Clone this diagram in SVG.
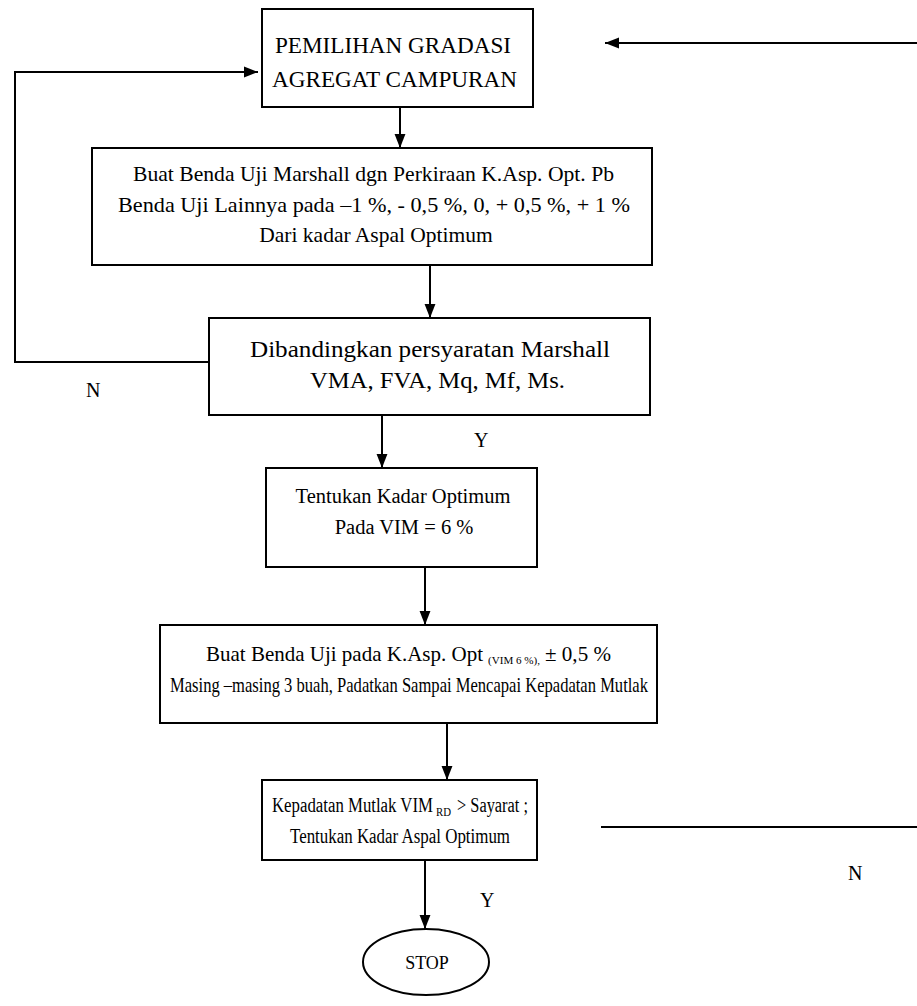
<svg xmlns="http://www.w3.org/2000/svg" width="917" height="1006" viewBox="0 0 917 1006">
<style>
.box{fill:#fff;stroke:#000;stroke-width:2}
.ln{fill:none;stroke:#000;stroke-width:2}
text{font-family:'Liberation Serif','DejaVu Serif',serif;font-size:20px;fill:#000}
.c{text-anchor:middle}
</style>
<defs>
<marker id="ah" markerWidth="14" markerHeight="18" refX="18" refY="7" orient="auto" markerUnits="userSpaceOnUse" viewBox="0 0 18 14">
<path d="M0,0 L18,7 L0,14 Z" fill="#000"/>
</marker>
</defs>
<g id="connectors">
<line class="ln" x1="917" y1="43" x2="605" y2="43" marker-end="url(#ah)"/>
<polyline class="ln" points="209,362 15,362 15,72 258,72" marker-end="url(#ah)"/>
<line class="ln" x1="400" y1="107" x2="400" y2="148" marker-end="url(#ah)"/>
<line class="ln" x1="430" y1="265" x2="430" y2="318" marker-end="url(#ah)"/>
<line class="ln" x1="382" y1="415" x2="382" y2="468" marker-end="url(#ah)"/>
<line class="ln" x1="425" y1="567" x2="425" y2="625" marker-end="url(#ah)"/>
<line class="ln" x1="447" y1="723" x2="447" y2="780" marker-end="url(#ah)"/>
<line class="ln" x1="601" y1="827" x2="917" y2="827"/>
<line class="ln" x1="425" y1="860" x2="425" y2="929" marker-end="url(#ah)"/>
<text x="86" y="397">N</text>
<text x="474" y="447">Y</text>
<text x="848" y="880">N</text>
<text x="480" y="907">Y</text>
</g>
<g id="n1">
<rect class="box" x="262" y="9" width="271" height="98"/>
<text x="275" y="53" style="font-size:23px" textLength="236" lengthAdjust="spacingAndGlyphs">PEMILIHAN GRADASI</text>
<text x="272" y="87" style="font-size:23px" textLength="245" lengthAdjust="spacingAndGlyphs">AGREGAT CAMPURAN</text>
</g>
<g id="n2">
<rect class="box" x="92" y="148" width="560" height="117"/>
<text x="133" y="181" style="font-size:21.5px" textLength="481" lengthAdjust="spacingAndGlyphs">Buat Benda Uji Marshall dgn Perkiraan K.Asp. Opt. Pb</text>
<text x="118" y="212" style="font-size:21.5px" textLength="512" lengthAdjust="spacingAndGlyphs">Benda Uji Lainnya pada –1 %, - 0,5 %, 0, + 0,5 %, + 1 %</text>
<text class="c" x="376" y="242" style="font-size:21.5px">Dari kadar Aspal Optimum</text>
</g>
<g id="n3">
<rect class="box" x="209" y="318" width="441" height="97"/>
<text x="250" y="357" style="font-size:23px" textLength="360" lengthAdjust="spacingAndGlyphs">Dibandingkan persyaratan Marshall</text>
<text x="310" y="388" style="font-size:23px" textLength="255" lengthAdjust="spacingAndGlyphs">VMA, FVA, Mq, Mf, Ms.</text>
</g>
<g id="n4">
<rect class="box" x="266" y="468" width="271" height="99"/>
<text class="c" x="403" y="503" style="font-size:20.5px">Tentukan Kadar Optimum</text>
<text class="c" x="404" y="534" style="font-size:20.5px">Pada VIM = 6 %</text>
</g>
<g id="n5">
<rect class="box" x="160" y="625" width="497" height="98"/>
<text x="206" y="661" style="font-size:21px" textLength="277" lengthAdjust="spacingAndGlyphs">Buat Benda Uji pada K.Asp. Opt</text>
<text x="488" y="664" style="font-size:11px" textLength="52" lengthAdjust="spacingAndGlyphs">(VIM 6 %),</text>
<text x="545" y="661" style="font-size:21px" textLength="66" lengthAdjust="spacingAndGlyphs">± 0,5 %</text>
<text x="170" y="692" style="font-size:21px" textLength="478" lengthAdjust="spacingAndGlyphs">Masing –masing 3 buah, Padatkan Sampai Mencapai Kepadatan Mutlak</text>
</g>
<g id="n6">
<rect class="box" x="262" y="780" width="275" height="80"/>
<text x="272" y="812" textLength="161" lengthAdjust="spacingAndGlyphs">Kepadatan Mutlak VIM</text>
<text x="436" y="816" style="font-size:13px" textLength="15" lengthAdjust="spacingAndGlyphs">RD</text>
<text x="457" y="812" textLength="71" lengthAdjust="spacingAndGlyphs">&gt; Sayarat ;</text>
<text x="290" y="843" textLength="220" lengthAdjust="spacingAndGlyphs">Tentukan Kadar Aspal Optimum</text>
</g>
<g id="stop">
<ellipse class="box" cx="426" cy="962" rx="63" ry="33"/>
<text class="c" x="427" y="969" style="font-size:18px">STOP</text>
</g>
</svg>
